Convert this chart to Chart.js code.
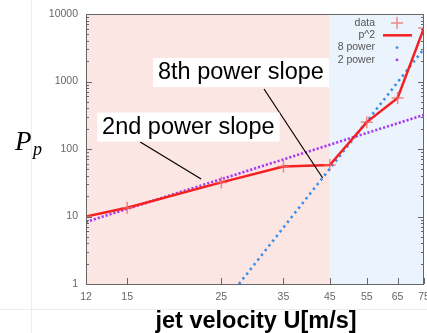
<!DOCTYPE html>
<html><head><meta charset="utf-8">
<script src="https://cdn.jsdelivr.net/npm/chart.js@4/dist/chart.umd.min.js"></script>
<style>html,body{margin:0;padding:0;background:#fff}canvas{display:block}</style>
</head><body>
<canvas id="c" width="427" height="333"></canvas>
<script>
// ---- data ----
const velocity = [12, 15, 25, 35, 45, 55, 65, 75];
const power = [10, 13.5, 32, 55, 58, 250, 570, 6200];
const pow8X = [27.5, 45, 75];
const pow8Y = [1, 51, 3070];
const pow2X = [12, 75];
const pow2Y = [8.3, 320];
const xTicks = [12, 15, 25, 35, 45, 55, 65, 75];
const yTicks = [1, 10, 100, 1000, 10000];
const regionBounds = [12, 45, 75];
const legendLabels = ['data', 'p^2', '8 power', '2 power'];
const annotations = [
  {text: '8th power slope', tx: 27.8, ty: 1383, ax: 31.5, ay: 774, bx: 43.3, by: 37.2},
  {text: '2nd power slope', tx: 20.9, ty: 215, ax: 16.1, ay: 127, bx: 22.4, by: 36}
];

const pts = (xs, ys) => xs.map((v, i) => ({x: v, y: ys[i]}));
const RED = '#f52020', MARK = 'rgba(240,100,100,0.75)', BLUE = '#3a8ee8', PURPLE = '#a83cf2';

const plot = {
  id: 'plot',
  beforeDatasetsDraw(chart) {
    const {ctx, chartArea: a, scales: {x}} = chart;
    const cols = ['#fbe6e4', '#ebf3fd'];
    ctx.save();
    for (let i = 0; i < regionBounds.length - 1; i++) {
      const x0 = x.getPixelForValue(regionBounds[i]), x1 = x.getPixelForValue(regionBounds[i + 1]);
      ctx.fillStyle = cols[i];
      ctx.fillRect(x0, a.top, x1 - x0, a.bottom - a.top);
    }
    ctx.restore();
  },
  afterDatasetsDraw(chart) {
    const {ctx, chartArea: a, scales: {x, y}} = chart;
    ctx.save();
    // faint page guide lines
    ctx.strokeStyle = '#ededed'; ctx.lineWidth = 1;
    ctx.beginPath(); ctx.moveTo(31.5, 0); ctx.lineTo(31.5, 333); ctx.stroke();
    ctx.beginPath(); ctx.moveTo(0, 309.5); ctx.lineTo(427, 309.5); ctx.stroke();
    // frame
    ctx.strokeStyle = '#666'; ctx.lineWidth = 1;
    ctx.strokeRect(Math.round(a.left) + 0.5, Math.round(a.top) + 0.5, Math.round(a.right - a.left) - 1, Math.round(a.bottom - a.top));
    // y ticks (left and right, inward)
    ctx.beginPath();
    for (let d = 0; d < yTicks.length; d++) {
      const base = yTicks[d];
      const py = Math.round(y.getPixelForValue(base)) + 0.5;
      ctx.moveTo(a.left, py); ctx.lineTo(a.left + 6, py);
      ctx.moveTo(a.right, py); ctx.lineTo(a.right - 6, py);
      if (d < yTicks.length - 1) {
        for (let m = 2; m < 10; m++) {
          const pm = Math.round(y.getPixelForValue(base * m)) + 0.5;
          ctx.moveTo(a.left, pm); ctx.lineTo(a.left + 3, pm);
          ctx.moveTo(a.right, pm); ctx.lineTo(a.right - 3, pm);
        }
      }
    }
    for (const t of xTicks) {
      const px = Math.round(x.getPixelForValue(t)) + 0.5;
      ctx.moveTo(px, a.bottom); ctx.lineTo(px, a.bottom - 6);
    }
    ctx.stroke();
    // annotations
    ctx.font = '23.5px "Liberation Sans", Arial, sans-serif';
    ctx.textAlign = 'center'; ctx.textBaseline = 'middle';
    for (const an of annotations) {
      ctx.strokeStyle = '#000'; ctx.lineWidth = 1.2;
      ctx.beginPath();
      ctx.moveTo(x.getPixelForValue(an.ax), y.getPixelForValue(an.ay));
      ctx.lineTo(x.getPixelForValue(an.bx), y.getPixelForValue(an.by));
      ctx.stroke();
      const cx = x.getPixelForValue(an.tx), cy = y.getPixelForValue(an.ty);
      const w = ctx.measureText(an.text).width + 10;
      ctx.fillStyle = '#fff';
      ctx.fillRect(cx - w / 2, cy - 14, w, 29);
      ctx.fillStyle = '#000';
      ctx.fillText(an.text, cx, cy + 1);
    }
    // legend
    ctx.font = '10.5px "Liberation Sans", Arial, sans-serif';
    ctx.textAlign = 'right'; ctx.textBaseline = 'middle';
    const lx = a.right - 49, sx = a.right - 27;
    legendLabels.forEach((lab, i) => {
      const ly = a.top + 9 + i * 12.3;
      ctx.fillStyle = '#555';
      ctx.fillText(lab, lx, ly);
      if (i === 0) {
        ctx.strokeStyle = MARK; ctx.lineWidth = 1.5;
        ctx.beginPath(); ctx.moveTo(sx - 6, ly); ctx.lineTo(sx + 6, ly); ctx.moveTo(sx, ly - 6); ctx.lineTo(sx, ly + 6); ctx.stroke();
      } else if (i === 1) {
        ctx.strokeStyle = RED; ctx.lineWidth = 2.5;
        ctx.beginPath(); ctx.moveTo(sx - 14, ly); ctx.lineTo(sx + 15, ly); ctx.stroke();
      } else {
        ctx.fillStyle = i === 2 ? BLUE : PURPLE;
        ctx.beginPath(); ctx.arc(sx, ly, 1.4, 0, Math.PI * 2); ctx.fill();
      }
    });
    // x title
    ctx.fillStyle = '#000';
    ctx.textAlign = 'center'; ctx.textBaseline = 'alphabetic';
    ctx.font = 'bold 23.5px "Liberation Sans", Arial, sans-serif';
    ctx.fillText('jet velocity U[m/s]', 256, 328);
    // y title P_p
    ctx.textAlign = 'left';
    ctx.font = 'italic 27px "Liberation Serif", "DejaVu Serif", serif';
    ctx.fillText('P', 15, 150);
    ctx.font = 'italic 18px "Liberation Serif", "DejaVu Serif", serif';
    ctx.fillText('p', 33, 155);
    ctx.restore();
  }
};

new Chart(document.getElementById('c'), {
  type: 'scatter',
  data: {
    datasets: [
      {label: 'data', data: pts(velocity, power), showLine: false, pointStyle: 'cross', pointRadius: 6, pointBorderWidth: 1.5, borderColor: MARK, backgroundColor: MARK, order: 1},
      {label: 'p^2', data: pts(velocity, power), showLine: true, pointRadius: 0, borderColor: RED, borderWidth: 2.5, order: 2},
      {label: '8 power', data: pts(pow8X, pow8Y), showLine: true, pointRadius: 0, borderColor: BLUE, borderWidth: 2.6, borderDash: [2.4, 3.6], borderCapStyle: 'butt', order: 3},
      {label: '2 power', data: pts(pow2X, pow2Y), showLine: true, pointRadius: 0, borderColor: PURPLE, borderWidth: 2.6, borderDash: [2.2, 1.9], order: 4}
    ]
  },
  options: {
    responsive: false, animation: false, devicePixelRatio: 1,
    layout: {autoPadding: false, padding: {top: 14, right: 3, left: 0, bottom: 0}},
    plugins: {legend: {display: false}, tooltip: {enabled: false}},
    scales: {
      x: {
        type: 'logarithmic', min: 12, max: 75,
        afterBuildTicks: s => { s.ticks = xTicks.map(v => ({value: v})); },
        afterFit: s => { s.height = 49; s.paddingLeft = 0; s.paddingRight = 0; },
        grid: {display: false, drawTicks: false}, border: {display: false},
        ticks: {callback: v => String(v), color: '#666', font: {size: 10.5, family: '"Liberation Sans", Arial, sans-serif'}, padding: 7, maxRotation: 0, autoSkip: false}
      },
      y: {
        type: 'logarithmic', min: 1, max: 10000,
        afterBuildTicks: s => { s.ticks = yTicks.map(v => ({value: v})); },
        afterFit: s => { s.width = 86; s.paddingTop = 0; s.paddingBottom = 0; },
        grid: {display: false, drawTicks: false}, border: {display: false},
        ticks: {callback: v => String(v), color: '#666', font: {size: 10.5, family: '"Liberation Sans", Arial, sans-serif'}, padding: 8, autoSkip: false}
      }
    }
  },
  plugins: [plot]
});
</script>
</body></html>
